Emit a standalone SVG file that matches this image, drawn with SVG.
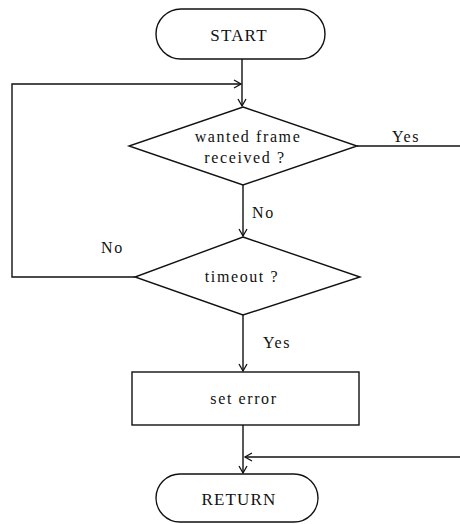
<svg xmlns="http://www.w3.org/2000/svg" width="460" height="524" viewBox="0 0 460 524">
<style>
.s{fill:none;stroke:#111;stroke-width:1.4}
.t{font-family:"Liberation Serif","DejaVu Serif",serif;font-size:16px;fill:#111;letter-spacing:1.6px}
.u{font-size:17px;letter-spacing:1.2px}
.c{text-anchor:middle}
</style>
<defs>
<marker id="a" markerWidth="10" markerHeight="10" refX="8" refY="5" orient="auto" markerUnits="userSpaceOnUse">
<path d="M1,1 L8,5 L1,9" fill="none" stroke="#111" stroke-width="1.3"/>
</marker>
</defs>
<rect width="460" height="524" fill="#fff"/>
<g id="connectors" class="s">
<path d="M242,59 V106" marker-end="url(#a)"/>
<path d="M135,277 H12 V84 H241" marker-end="url(#a)"/>
<path d="M357,146 H460"/>
<path d="M243,185 V236" marker-end="url(#a)"/>
<path d="M243,315 V371" marker-end="url(#a)"/>
<path d="M243,425 V473" marker-end="url(#a)"/>
<path d="M460,457 H245" marker-end="url(#a)"/>
</g>
<g id="labels" class="t">
<text x="392" y="142">Yes</text>
<text x="252" y="218">No</text>
<text x="101" y="253">No</text>
<text x="263" y="348">Yes</text>
</g>
<g id="start">
<rect class="s" x="156" y="9" width="169" height="50" rx="25"/>
<text class="t u c" x="239" y="41">START</text>
</g>
<g id="wanted">
<polygon class="s" points="243,107 357,146 243,185 129,146"/>
<text class="t c" x="248" y="142">wanted frame</text>
<text class="t c" x="245" y="163">received ?</text>
</g>
<g id="timeout">
<polygon class="s" points="243,237 360,277 243,315 135,277"/>
<text class="t c" x="242" y="282">timeout ?</text>
</g>
<g id="seterror">
<rect class="s" x="132" y="372" width="227" height="53"/>
<text class="t c" x="244" y="404">set error</text>
</g>
<g id="return">
<rect class="s" x="156" y="474" width="162" height="48" rx="24"/>
<text class="t u c" x="239" y="505">RETURN</text>
</g>
</svg>
